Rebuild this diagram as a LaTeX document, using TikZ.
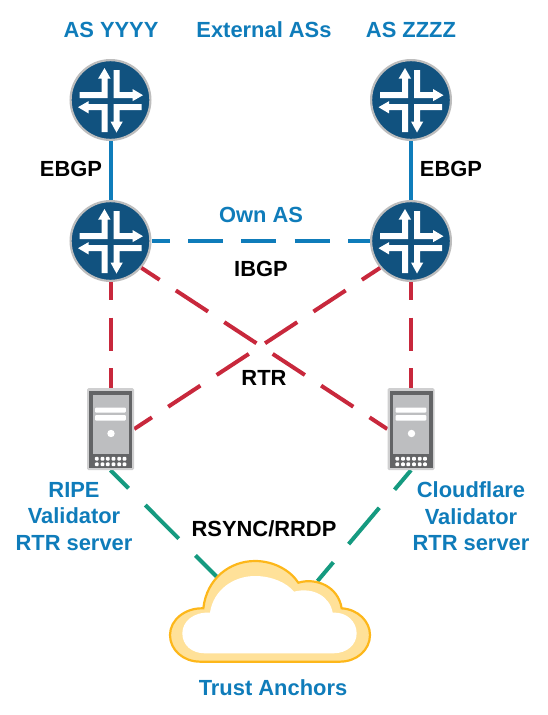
\documentclass[tikz,border=0pt]{standalone}
\usepackage{fontspec}
\setmainfont{Liberation Sans}
\definecolor{rblue}{HTML}{11527F}
\definecolor{rring}{HTML}{BDBDBD}
\definecolor{lblue}{HTML}{0F7CBA}
\definecolor{lred}{HTML}{C8283C}
\definecolor{lgreen}{HTML}{159A80}
\definecolor{cloudedge}{HTML}{FDB71A}
\definecolor{cloudfill}{HTML}{FFE199}
\definecolor{srvedge}{HTML}{CFCFD0}
\definecolor{srvlight}{HTML}{BDBEC0}
\definecolor{srvdark}{HTML}{636466}
\tikzset{
  x=1pt,y=-1pt,
  router/.style={circle,draw=rring,line width=2.2pt,fill=rblue,minimum size=79.8pt,inner sep=0pt},
  srvbox/.style={rectangle,minimum width=47pt,minimum height=82pt,inner sep=0pt},
  blab/.style={font=\bfseries\fontsize{21.9}{26.5}\selectfont,text=lblue,align=center,inner sep=0pt},
  klab/.style={font=\bfseries\fontsize{21.9}{26.5}\selectfont,text=black,inner sep=0pt},
  blueline/.style={lblue,line width=4pt},
  blueddash/.style={lblue,line width=4pt,dash pattern=on 35pt off 18.3pt,dash phase=16.7pt},
  redline/.style={lred,line width=4pt,dash pattern=on 38.5pt off 19.4pt,dash phase=16.8pt},
  redvert/.style={lred,line width=4pt,dash pattern=on 33.5pt off 17.3pt,dash phase=15.2pt},
  greenline/.style={lgreen,line width=4pt,dash pattern=on 47.5pt off 23.7pt,dash phase=22pt},
  routericon/.pic={
    \fill[white] (-31,-7.8) -- (-9,-7.8) -- (-9,-21.5) -- (-12.3,-21.5) -- (-6,-32) -- (0,-21.5) -- (-3,-21.5) -- (-3,-1.8) -- (-31,-1.8) -- cycle;
    \fill[white] (3,-30) -- (9,-30) -- (9,-7.8) -- (22,-7.8) -- (22,-11) -- (32.5,-4.8) -- (22,1.2) -- (22,-1.8) -- (3,-1.8) -- cycle;
    \fill[white] (-22,4.2) -- (-22,1.2) -- (-32.5,7.2) -- (-22,13.4) -- (-22,10.2) -- (-9,10.2) -- (-9,32) -- (-3,32) -- (-3,4.2) -- cycle;
    \fill[white] (3,4.2) -- (31,4.2) -- (31,10.2) -- (9,10.2) -- (9,21.5) -- (12.3,21.5) -- (6,32.5) -- (0,21.5) -- (3,21.5) -- cycle;
  },
  servericon/.pic={
    \fill[srvedge,rounded corners=1.5pt] (-23.5,-41) rectangle (23.5,41);
    \fill[srvdark] (-21.5,-38.5) rectangle (21.5,39);
    \fill[srvlight] (-18,-34.5) rectangle (18,24.5);
    \fill[white,rounded corners=1pt] (-15.5,-21.5) rectangle (15.3,-16.5);
    \fill[white,rounded corners=1pt] (-15.5,-14) rectangle (15.3,-8.5);
    \fill[white] (0.5,4.5) circle (3.7);
    \foreach \dx in {-13.7,-8,-2.7,3,8.7,14}
      \foreach \dy in {29.7,35.3}
        \fill[white,rounded corners=1pt] (\dx-1.9,\dy-1.9) rectangle (\dx+1.9,\dy+1.9);
  },
}
\begin{document}
\begin{tikzpicture}
\useasboundingbox (0,0) rectangle (548,715);
% nodes
\node[router] (asy) at (110.5,100) {};
\node[router] (asz) at (411,100) {};
\node[router] (ownl) at (110.5,241) {};
\node[router] (ownr) at (411,241) {};
\node[srvbox] (ripe) at (110.5,429) {};
\node[srvbox] (cf) at (411,429) {};
\coordinate (cl) at (217,577);
\coordinate (cr) at (317.5,581);
% connectors
\draw[blueline] (asy) -- (ownl);
\draw[blueline] (asz) -- (ownr);
\draw[blueddash] (ownl) -- (ownr);
\draw[redvert] (ownl) -- (ripe);
\draw[redvert] (ownr) -- (cf);
\draw[redline] (ownl.-41) -- (cf.west);
\draw[redline] (ownr.221) -- (ripe.east);
\draw[greenline] (ripe.south) -- (cl);
\draw[greenline] (cf.south) -- (cr);
% icons
\foreach \n in {asy,asz,ownl,ownr} \pic at (\n) {routericon};
\pic at (ripe) {servericon};
\pic at (cf) {servericon};
\begin{scope}[shift={(150,540)},x=0.3333pt,y=-0.3333pt]
\fill[cloudfill,draw=cloudedge,line width=2.2pt]
 (160,205) .. controls (170,115) and (240,63) .. (315,63)
 .. controls (370,63) and (420,90) .. (445,128)
 .. controls (500,112) and (565,140) .. (575,205)
 .. controls (625,208) and (660,245) .. (660,285)
 .. controls (660,330) and (620,365) .. (570,365)
 -- (150,365)
 .. controls (100,365) and (60,330) .. (60,285)
 .. controls (60,240) and (105,203) .. (160,205) -- cycle;
\fill[white]
 (180,218) .. controls (190,150) and (250,108) .. (315,108)
 .. controls (365,108) and (410,128) .. (432,155)
 .. controls (490,140) and (540,170) .. (548,218)
 .. controls (590,215) and (620,245) .. (620,280)
 .. controls (620,315) and (590,340) .. (550,340)
 -- (165,340)
 .. controls (125,340) and (97,315) .. (97,280)
 .. controls (97,245) and (130,215) .. (180,218) -- cycle;
\end{scope}
% labels
\node[blab] (t1) at (111,30) {AS YYYY};
\node[blab] (t2) at (264,30) {External ASs};
\node[blab] (t3) at (411,30) {AS ZZZZ};
\node[klab] (t4) at (71,169) {EBGP};
\node[klab] (t5) at (451,169) {EBGP};
\node[blab] (t6) at (261,215) {Own AS};
\node[klab] (t7) at (261,269) {IBGP};
\node[klab] (t8) at (264,378) {RTR};
\node[blab] (t9) at (74,516.5) {RIPE\\Validator\\RTR server};
\node[blab] (t10) at (471,516.5) {Cloudflare\\Validator\\RTR server};
\node[klab] (t11) at (264,529) {RSYNC/RRDP};
\node[blab] (t12) at (273,688) {Trust Anchors};
\end{tikzpicture}
\end{document}
